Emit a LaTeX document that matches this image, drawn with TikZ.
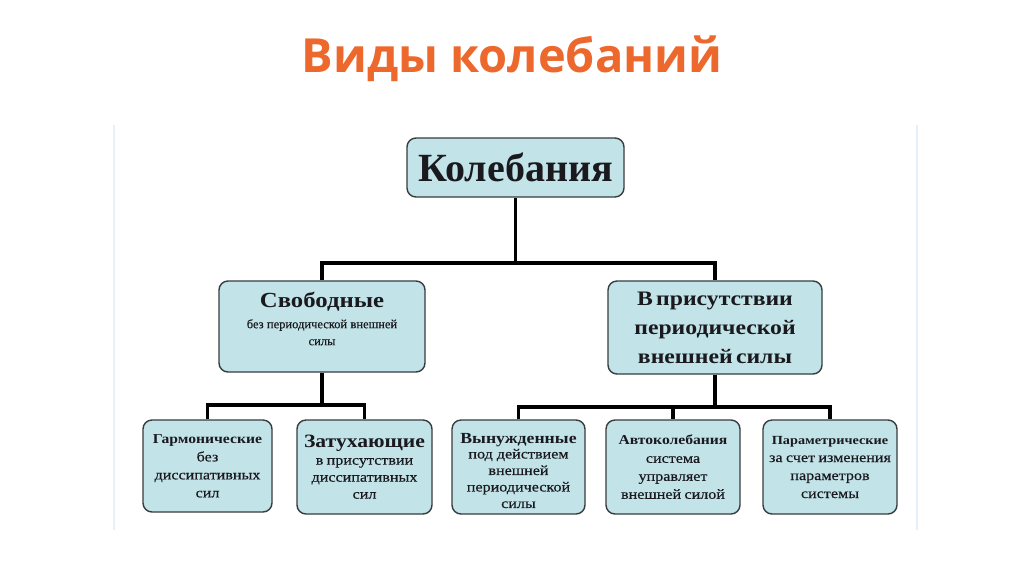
\documentclass[tikz,border=0pt]{standalone}
\usepackage{fontspec}
\setmainfont{Liberation Serif}
\newfontfamily\wide[FakeStretch=1.15]{Liberation Serif}
\newfontfamily\widebold[FakeStretch=1.15,FakeBold=0.4]{Liberation Serif}
\newfontfamily\normbold[FakeBold=0.4]{Liberation Serif}
\newfontfamily\titlefont{Open Sans}
\definecolor{boxfill}{RGB}{194,227,232}
\definecolor{boxedge}{RGB}{55,60,60}
\definecolor{titleorange}{RGB}{236,104,44}
\definecolor{faint}{RGB}{230,240,248}
\definecolor{ink}{RGB}{25,25,30}
\tikzset{
  box/.style={draw=boxedge, line width=1.4pt, fill=boxfill, rounded corners=9pt,
    align=center, inner sep=2pt, text=ink},
  link/.style={draw=black, line width=3.7pt},
}
\newcommand{\fs}[2]{\fontsize{#1}{#2}\selectfont}
\begin{document}
\begin{tikzpicture}[x=1pt,y=-1pt]
\useasboundingbox (0,0) rectangle (1024,574);
\fill[white] (0,0) rectangle (1024,574);
\draw[faint, line width=2pt] (114,125) -- (114,530);
\draw[faint, line width=2pt] (917,125) -- (917,530);

\node[text=titleorange, font=\titlefont\bfseries\fs{47}{52}] (title) at (512,59) {Виды колебаний};

\node[box, minimum width=217, minimum height=59] (top) at (515.5,167.5)
  {\fs{40}{44}\bfseries Колебания};

\node[box, minimum width=206, minimum height=91, text width=200] (free) at (322,326.5)
  {\wide\fs{21.5}{25}\bfseries Свободные\par\vspace{4pt}\normbold\mdseries\fs{12.5}{17}без периодической внешней\\силы\par\fs{12.5}{16}\mbox{}\par};
\node[box, minimum width=214, minimum height=93, text width=208] (pres) at (715,327.5)
  {\wide\fs{20.6}{29}\bfseries В присутствии\\периодической\\внешней силы\par};

\node[box, minimum width=129, minimum height=92, text width=125] (harm) at (207.5,466)
  {\wide\fs{13.6}{18}\bfseries Гармонические\par\widebold\mdseries\fs{14}{18}без\\диссипативных\\сил\par};
\node[box, minimum width=135, minimum height=94, text width=131] (damp) at (364.5,467)
  {\wide\fs{18.8}{21}\bfseries Затухающие\par\widebold\mdseries\fs{14}{17}в присутствии\\диссипативных\\сил\par};
\node[box, minimum width=133, minimum height=94] (forced) at (518.5,467)
  {\raisebox{-4pt}[\height][\depth]{\parbox{129pt}{\centering\wide\fs{15.4}{18}\bfseries Вынужденные\par\vspace{-2pt}\widebold\mdseries\fs{14}{16.5}под действием\\внешней\\периодической\\силы\par}}};
\node[box, minimum width=134, minimum height=94, text width=130] (auto) at (673,467)
  {\wide\fs{13.6}{18}\bfseries Автоколебания\par\widebold\mdseries\fs{14}{18}система\\управляет\\внешней силой\par};
\node[box, minimum width=134, minimum height=94, text width=130] (param) at (830,467)
  {\wide\fs{12.4}{18}\bfseries Параметрические\par\widebold\mdseries\fs{14}{18}за счет изменения\\параметров\\системы\par};

\coordinate (j1) at (515.5,263);
\coordinate (j2) at (322,405);
\coordinate (j3) at (715,407);
\draw[link] (top.south) -- (j1);
\draw[link] (free.north) |- (j1) -| (pres.north);
\draw[link] (free.south) -- (j2);
\draw[link] (harm.north) |- (j2) -| (damp.north);
\draw[link] (pres.south) -- (j3);
\draw[link] (forced.north) |- (j3) -| (param.north);
\draw[link] (auto.north) -- (auto.north |- j3);
\end{tikzpicture}
\end{document}
